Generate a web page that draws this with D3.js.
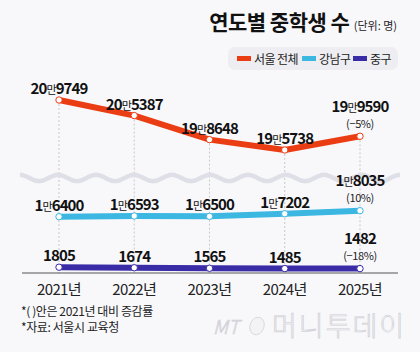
<!DOCTYPE html>
<html>
<head>
<meta charset="utf-8">
<script src="https://cdn.jsdelivr.net/npm/d3@7"></script>
<style>
  html, body { margin: 0; padding: 0; background: #f8f8fb; }
  svg { display: block; font-family: 'Noto Sans CJK KR', 'Noto Sans', sans-serif; }
</style>
</head>
<body>
<div id="app"></div>
<script>
'use strict'

const width = 420
const height = 352

// data
const years = ['2021년', '2022년', '2023년', '2024년', '2025년']
const seoul = [209749, 205387, 198648, 195738, 199590]
const gangnam = [16400, 16593, 16500, 17202, 18035]
const junggu = [1805, 1674, 1565, 1485, 1482]
const seriesNames = ['서울 전체', '강남구', '중구']
const colors = ['#eb3d14', '#3bb7e1', '#3a2ba6']

const svg = d3.select('#app').append('svg')
  .attr('width', width)
  .attr('height', height)
  .style('background-color', '#f8f8fb')

// title
const title = svg.append('text')
  .attr('x', 397)
  .attr('y', 30)
  .attr('text-anchor', 'end')
  .style('fill', '#111')
title.append('tspan')
  .text('연도별 중학생 수 ')
  .style('font-size', '21px')
  .style('font-weight', 700)
  .style('letter-spacing', '-0.5px')
title.append('tspan')
  .text('(단위: 명)')
  .style('font-size', '11px')
  .style('fill', '#222')

// legend
const legend = svg.append('g')
legend.append('rect')
  .attr('x', 228).attr('y', 47)
  .attr('width', 170).attr('height', 23)
  .attr('rx', 7)
  .style('fill', '#eeeef2')
const legendX = [237, 302, 353]
seriesNames.forEach((name, i) => {
  legend.append('rect')
    .attr('x', legendX[i]).attr('y', 56)
    .attr('width', 14).attr('height', 5)
    .style('fill', colors[i])
  legend.append('text')
    .attr('x', legendX[i] + 17).attr('y', 63.5)
    .text(name)
    .style('font-size', '12px')
    .style('letter-spacing', '-0.6px')
    .style('fill', '#222')
})

// scales, one panel per series (broken axis)
const x = d3.scalePoint().domain(years).range([59, 360])
const ySeoul = d3.scaleLinear().domain([195738, 209749]).range([150, 100])
const yGangnam = d3.scaleLinear().domain([16400, 18035]).range([216.7, 210.7])
const yJunggu = d3.scaleLinear().domain([1482, 1805]).range([268.6, 267.2])

const series = [
  { values: seoul, y: ySeoul, color: colors[0] },
  { values: gangnam, y: yGangnam, color: colors[1] },
  { values: junggu, y: yJunggu, color: colors[2] }
]

const baseY = 273

// dotted grid lines from the top points down to the axis
svg.append('g').selectAll('line')
  .data(years)
  .join('line')
  .attr('x1', d => x(d)).attr('x2', d => x(d))
  .attr('y1', (d, i) => ySeoul(seoul[i]))
  .attr('y2', baseY)
  .style('stroke', '#c8c8cc')
  .style('stroke-width', 1)
  .style('stroke-dasharray', '2,2')

// wavy break line
const wave = d3.range(20, 401, 2).map(px => [px, 178 + 3.2 * Math.sin((px - 20) / 38 * 2 * Math.PI - Math.PI / 2)])
svg.append('path')
  .attr('d', d3.line().curve(d3.curveBasis)(wave))
  .style('fill', 'none')
  .style('stroke', '#dfdfe7')
  .style('stroke-width', 4.5)

// axis baseline + year labels
svg.append('line')
  .attr('x1', 22).attr('x2', 398)
  .attr('y1', baseY).attr('y2', baseY)
  .style('stroke', '#555')
  .style('stroke-width', 1)

svg.append('g').selectAll('text')
  .data(years)
  .join('text')
  .attr('x', d => x(d))
  .attr('y', 295)
  .attr('text-anchor', 'middle')
  .text(d => d)
  .style('font-size', '15px')
  .style('letter-spacing', '-0.6px')
  .style('fill', '#222')

// lines, points, labels
const pct = d3.format('.0%')
series.forEach(s => {
  const line = d3.line()
    .x((d, i) => x(years[i]))
    .y(d => s.y(d))

  svg.append('path')
    .datum(s.values)
    .attr('d', line)
    .style('fill', 'none')
    .style('stroke', s.color)
    .style('stroke-width', 6)
    .style('stroke-linejoin', 'round')

  svg.append('g').selectAll('circle')
    .data(s.values)
    .join('circle')
    .attr('cx', (d, i) => x(years[i]))
    .attr('cy', d => s.y(d))
    .attr('r', 3.2)
    .style('fill', '#fff')
    .style('stroke', s.color)
    .style('stroke-width', 1)

  const last = s.values.length - 1
  const labels = svg.append('g').selectAll('text')
    .data(s.values)
    .join('text')
    .attr('x', (d, i) => x(years[i]))
    .attr('y', (d, i) => s.y(d) - (i === last ? 24.5 : 6))
    .attr('text-anchor', 'middle')
    .style('fill', '#111')
    .style('letter-spacing', '-0.9px')

  labels.each(function(d) {
    const t = d3.select(this)
    if (d >= 10000) {
      t.append('tspan').text(Math.floor(d / 10000))
        .style('font-size', '15px').style('font-weight', 700)
      t.append('tspan').text('만')
        .style('font-size', '11px').style('font-weight', 400)
      t.append('tspan').text(String(d % 10000).padStart(4, '0'))
        .style('font-size', '15px').style('font-weight', 700)
    } else {
      t.append('tspan').text(d)
        .style('font-size', '15px').style('font-weight', 700)
    }
  })

  // change vs 2021
  const change = (s.values[last] - s.values[0]) / s.values[0]
  svg.append('text')
    .attr('x', x(years[last]))
    .attr('y', s.y(s.values[last]) - 8.5)
    .attr('text-anchor', 'middle')
    .text(`(${pct(change).replace('-', '−')})`)
    .style('font-size', '11px')
    .style('letter-spacing', '-0.4px')
    .style('fill', '#222')
})

// footnotes
const notes = ['*( )안은 2021년 대비 증감률', '*자료: 서울시 교육청']
svg.append('g').selectAll('text')
  .data(notes)
  .join('text')
  .attr('x', 21)
  .attr('y', (d, i) => 316 + i * 16)
  .text(d => d)
  .style('font-size', '12px')
  .style('letter-spacing', '-0.4px')
  .style('fill', '#222')

// watermark
const mark = svg.append('g')
  .style('fill', '#f3f3f6')
  .style('stroke', '#cfcfd5')
  .style('stroke-width', 0.7)
mark.append('text')
  .attr('x', 213).attr('y', 334)
  .text('MT')
  .style('font-size', '19px')
  .style('font-style', 'italic')
  .style('font-weight', 300)
mark.append('ellipse')
  .attr('cx', 257).attr('cy', 326)
  .attr('rx', 7).attr('ry', 9)
  .attr('transform', 'rotate(20 257 326)')
mark.append('text')
  .attr('x', 272).attr('y', 336)
  .text('머니투데이')
  .style('font-size', '27px')
  .style('font-weight', 300)
  .style('letter-spacing', '2px')
</script>
</body>
</html>
